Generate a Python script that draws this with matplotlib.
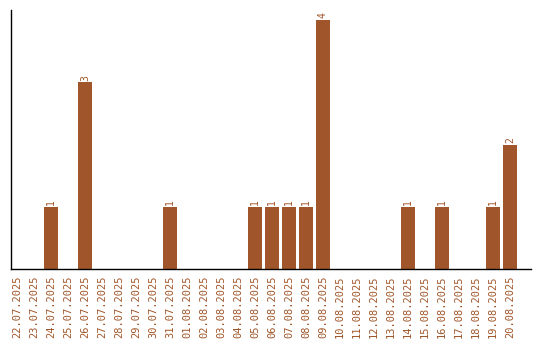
import matplotlib
matplotlib.use("Agg")
import matplotlib.pyplot as plt
import numpy as np

dates = ["22.07.2025", "23.07.2025", "24.07.2025", "25.07.2025", "26.07.2025",
         "27.07.2025", "28.07.2025", "29.07.2025", "30.07.2025", "31.07.2025",
         "01.08.2025", "02.08.2025", "03.08.2025", "04.08.2025", "05.08.2025",
         "06.08.2025", "07.08.2025", "08.08.2025", "09.08.2025", "10.08.2025",
         "11.08.2025", "12.08.2025", "13.08.2025", "14.08.2025", "15.08.2025",
         "16.08.2025", "17.08.2025", "18.08.2025", "19.08.2025", "20.08.2025"]
counts = [0, 0, 1, 0, 3, 0, 0, 0, 0, 1,
          0, 0, 0, 0, 1, 1, 1, 1, 4, 0,
          0, 0, 0, 1, 0, 1, 0, 0, 1, 2]

brown = "#a0562a"

fig = plt.figure(figsize=(5.4, 3.4), dpi=100)
ax = fig.add_axes([0.0204, 0.2088, 0.9626, 0.7612])

x = np.arange(len(dates))
ax.bar(x, counts, width=0.82, color=brown)
for xi, c in zip(x, counts):
    if c > 0:
        ax.text(xi, c + 0.03, str(c), rotation=90, ha="center", va="bottom",
                color=brown, fontsize=7, family="DejaVu Sans Mono")

ax.set_xlim(-0.35, len(dates) - 1 + 1.23)
ax.set_ylim(0, 4.16)
ax.set_xticks(x)
ax.set_xticklabels(dates, rotation=90, color=brown, fontsize=7.5,
                   family="DejaVu Sans Mono")
ax.set_yticks([])
ax.tick_params(axis="x", length=0, pad=5)
for s in ["top", "right"]:
    ax.spines[s].set_visible(False)
for s in ["left", "bottom"]:
    ax.spines[s].set_linewidth(1.0)

fig.savefig("out.png", dpi=100)
